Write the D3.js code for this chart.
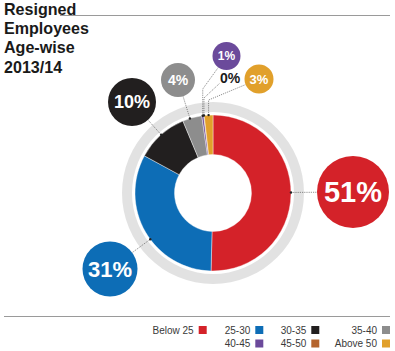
<!DOCTYPE html>
<html><head><meta charset="utf-8">
<script src="https://cdn.jsdelivr.net/npm/d3@7"></script>
<style>body{margin:0;background:#fff}svg{display:block}</style>
</head><body><svg id="c" width="395" height="351"></svg>
<script>
// ---- data ----
const categories = ["Below 25","25-30","30-35","35-40","40-45","45-50","Above 50"];
const values = [50.4, 32.5, 10.8, 4.0, 0.4, 0.1, 1.8];
const labels = ["51%","31%","10%","4%","1%","0%","3%"];
const colors = ["#d42229","#0d6db6","#221f1f","#8d8d8d","#6b4a9b","#b4642d","#e1a02b"];
const titleLines = ["Resigned","Employees","Age-wise","2013/14"];

// ---- layout ----
const W = 395, H = 351, cx = 213, cy = 193;
const rIn = 38.5, rOut = 78, ringIn = 81, ringOut = 91;
const callouts = [
  {dx:140, dy:-1, r:36, fs:29, bubble:true},
  {dx:-103, dy:76, r:27.5, fs:22, bubble:true},
  {dx:-81, dy:-91, r:24, fs:18, bubble:true},
  {dx:-35, dy:-113, r:17, fs:14, bubble:true},
  {dx:13.5, dy:-137, r:14, fs:12, bubble:true, elbow:-104},
  {dx:17, dy:-115.5, r:0, fs:14, bubble:false, elbow:-95, end:[7,-110]},
  {dx:46, dy:-114, r:14.5, fs:13, bubble:true, elbow:-93}
];

const svg = d3.select("#c");
const font = "'Liberation Sans', Arial, Helvetica, sans-serif";

// rules
svg.append("line").attr("x1",60).attr("x2",390).attr("y1",15.5).attr("y2",15.5)
  .attr("stroke","#9a9a9a").attr("stroke-width",1);
svg.append("line").attr("x1",4).attr("x2",390).attr("y1",316.5).attr("y2",316.5)
  .attr("stroke","#9a9a9a").attr("stroke-width",1);

// title
const tt = svg.append("g").selectAll("text").data(titleLines).join("text")
  .attr("x",4).attr("y",(d,i)=>15+i*19.2)
  .attr("font-family",font).attr("font-weight","bold").attr("font-size",16)
  .attr("fill","#1a1a1a").text(d=>d);
// scale title so "Employees" is about 85px wide, as in the reference
const wEmp = tt.filter((d,i)=>i===1).node().getComputedTextLength();
if (wEmp > 0) {
  const fs = Math.max(14, Math.min(20, 16*85/wEmp));
  tt.attr("font-size", fs);
}

// ring gradient
const defs = svg.append("defs");
const rg = defs.append("radialGradient").attr("id","rg").attr("gradientUnits","userSpaceOnUse")
  .attr("cx",cx).attr("cy",cy).attr("r",ringOut);
rg.append("stop").attr("offset",ringIn/ringOut).attr("stop-color","#f8f8f8");
rg.append("stop").attr("offset",0.94).attr("stop-color","#ececec");
rg.append("stop").attr("offset",1).attr("stop-color","#e2e2e2");

const g = svg.append("g").attr("transform",`translate(${cx},${cy})`);
g.append("path").attr("d", d3.arc().innerRadius(ringIn).outerRadius(ringOut).startAngle(0).endAngle(2*Math.PI)())
  .attr("fill","url(#rg)");

const pie = d3.pie().sort(null).value(d=>d)(values);
const arc = d3.arc().innerRadius(rIn).outerRadius(rOut);
g.selectAll("path.s").data(pie).join("path").attr("class","s")
  .attr("d",arc).attr("fill",(d,i)=>colors[i])
  .attr("stroke","#fff").attr("stroke-width",0.4);

// leaders and bubbles
const pt = (a, r) => [Math.sin(a)*r, -Math.cos(a)*r];
pie.forEach((p,i)=>{
  const c = callouts[i];
  let pts;
  if (c.elbow !== undefined) {
    const mid = (p.startAngle+p.endAngle)/2;
    const s = pt(mid, rOut);
    const e1 = [s[0], c.elbow];
    let end;
    if (c.end) end = c.end;
    else {
      const vx = c.dx-e1[0], vy = c.dy-e1[1], L = Math.hypot(vx,vy);
      end = [e1[0]+vx*(L-c.r)/L, e1[1]+vy*(L-c.r)/L];
    }
    pts = [s, e1, end];
  } else {
    const L = Math.hypot(c.dx,c.dy);
    const ux = c.dx/L, uy = c.dy/L;
    pts = [[ux*rOut, uy*rOut], [ux*(L-c.r), uy*(L-c.r)]];
  }
  g.append("path").attr("d", d3.line()(pts)).attr("fill","none")
    .attr("stroke","#444").attr("stroke-width",0.6).attr("stroke-dasharray","1.2,1");
  g.append("circle").attr("cx",pts[0][0]).attr("cy",pts[0][1]).attr("r",1.2).attr("fill","#222");
  if (c.bubble) {
    g.append("circle").attr("cx",c.dx).attr("cy",c.dy).attr("r",c.r).attr("fill",colors[i]);
  }
  g.append("text").attr("x",c.dx).attr("y",c.dy).attr("dy","0.36em")
    .attr("text-anchor","middle").attr("font-family",font).attr("font-weight","bold")
    .attr("font-size",c.fs).attr("fill",c.bubble?"#fff":"#1a1a1a").text(labels[i]);
});

// legend
const colRight = [206.7, 263.3, 319.3, 390];
const rowY = [326, 339.5];
const legendPos = [[0,0],[1,0],[2,0],[3,0],[1,1],[2,1],[3,1]];
const lg = svg.append("g");
categories.forEach((cat,i)=>{
  const [col,row] = legendPos[i];
  const x = colRight[col]-8, y = rowY[row];
  lg.append("rect").attr("x",x).attr("y",y).attr("width",8).attr("height",8).attr("fill",colors[i]);
  lg.append("text").attr("x",x-5).attr("y",y+7.5).attr("text-anchor","end")
    .attr("font-family",font).attr("font-size",10).attr("fill","#3a3a3a").text(cat);
});
</script></body></html>
